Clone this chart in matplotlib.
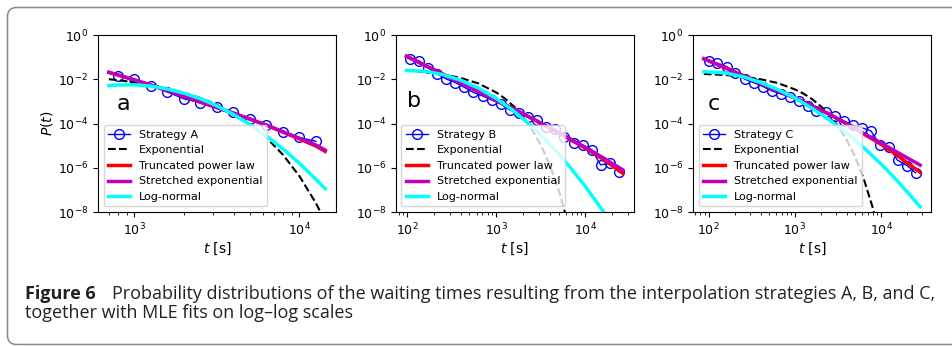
import numpy as np
import matplotlib
matplotlib.use("Agg")
import matplotlib.pyplot as plt
from matplotlib.patches import FancyBboxPatch
from matplotlib.transforms import IdentityTransform
from matplotlib.ticker import FixedLocator, NullLocator

# waiting-time histograms (log10 t [s], log10 P) and MLE fit curves per strategy

# strategy A
a_t = [2.9, 3.0, 3.1, 3.2, 3.3, 3.4, 3.5, 3.6, 3.7, 3.8, 3.9, 4.0, 4.1]
a_p = [-1.84, -2.01, -2.30, -2.58, -2.88, -3.07, -3.27, -3.48, -3.78, -4.07,
       -4.38, -4.63, -4.81]
a_fit_t = [2.845, 2.9, 3.0, 3.1, 3.2, 3.3, 3.4, 3.5, 3.6, 3.7, 3.8, 3.9, 4.0,
           4.1, 4.156]
a_exp = [-2.00, -2.04, -2.14, -2.26, -2.42, -2.61, -2.85, -3.16, -3.55, -4.03,
         -4.64, -5.41, -6.38, -7.60, -8.42]
a_tpl = [-1.69, -1.81, -2.03, -2.26, -2.51, -2.77, -3.03, -3.28, -3.54, -3.80,
         -4.08, -4.39, -4.70, -5.02, -5.26]
a_str = [-1.69, -1.80, -2.03, -2.26, -2.51, -2.77, -3.03, -3.28, -3.54, -3.80,
         -4.07, -4.37, -4.67, -4.97, -5.20]
a_logn = [-2.29, -2.26, -2.25, -2.31, -2.44, -2.63, -2.88, -3.20, -3.59, -4.05,
          -4.57, -5.15, -5.80, -6.52, -6.95]

# strategy B
b_t = [2.03, 2.13, 2.23, 2.34, 2.44, 2.54, 2.64, 2.74, 2.85, 2.95, 3.05, 3.15,
       3.25, 3.36, 3.46, 3.56, 3.66, 3.76, 3.87, 3.97, 4.07, 4.17, 4.27, 4.38]
b_p = [-1.08, -1.16, -1.48, -1.76, -1.99, -2.15, -2.36, -2.59, -2.76, -2.94,
       -3.12, -3.39, -3.54, -3.72, -3.84, -4.14, -4.25, -4.59, -4.87, -4.97,
       -5.18, -5.87, -5.80, -6.20]
b_fit_t = [1.993, 2.2, 2.4, 2.6, 2.8, 3.0, 3.2, 3.4, 3.6, 3.8, 4.0, 4.2, 4.42]
b_tpl = [-0.95, -1.37, -1.76, -2.16, -2.56, -2.95, -3.35, -3.78, -4.21, -4.65,
         -5.12, -5.62, -6.25]
b_str = [-0.97, -1.38, -1.77, -2.17, -2.56, -2.95, -3.35, -3.77, -4.20, -4.63,
         -5.08, -5.55, -6.10]
b_exp_t = [1.993, 2.2, 2.4, 2.6, 2.8, 3.0, 3.1, 3.2, 3.3, 3.4, 3.5, 3.6, 3.7, 3.8]
b_exp = [-1.61, -1.67, -1.78, -1.94, -2.19, -2.60, -2.88, -3.24, -3.69, -4.26,
         -4.98, -5.88, -7.01, -8.44]
b_logn_t = [1.993, 2.2, 2.4, 2.6, 2.8, 3.0, 3.2, 3.4, 3.6, 3.8, 4.0, 4.2, 4.3]
b_logn = [-1.60, -1.64, -1.79, -2.04, -2.40, -2.87, -3.45, -4.14, -4.93, -5.84,
          -6.85, -7.97, -8.57]

# strategy C
c_t = [2.00, 2.10, 2.21, 2.31, 2.42, 2.52, 2.63, 2.73, 2.84, 2.94, 3.05, 3.15,
       3.25, 3.36, 3.46, 3.57, 3.67, 3.78, 3.88, 3.99, 4.09, 4.19, 4.30, 4.40]
c_p = [-1.16, -1.28, -1.43, -1.73, -2.00, -2.15, -2.33, -2.52, -2.67, -2.79,
       -2.97, -3.21, -3.42, -3.48, -3.67, -3.88, -4.08, -4.20, -4.33, -4.97,
       -5.04, -5.66, -5.90, -6.23]
c_fit_t = [1.943, 2.2, 2.5, 2.8, 3.1, 3.4, 3.7, 4.0, 4.2, 4.453]
c_tpl = [-1.07, -1.49, -2.01, -2.52, -3.02, -3.58, -4.25, -4.94, -5.48, -6.21]
c_str = [-1.08, -1.50, -2.02, -2.52, -3.02, -3.58, -4.24, -4.88, -5.33, -5.88]
c_exp_t = [1.943, 2.2, 2.4, 2.6, 2.8, 3.0, 3.1, 3.2, 3.3, 3.4, 3.5, 3.6, 3.7,
           3.8, 3.9, 4.0]
c_exp = [-1.76, -1.81, -1.88, -2.00, -2.17, -2.46, -2.65, -2.90, -3.22, -3.61,
         -4.11, -4.74, -5.52, -6.52, -7.77, -9.34]
c_logn_t = [1.943, 2.2, 2.4, 2.6, 2.8, 3.0, 3.2, 3.4, 3.6, 3.8, 4.0, 4.2, 4.452]
c_logn = [-1.66, -1.72, -1.89, -2.14, -2.46, -2.85, -3.32, -3.84, -4.43, -5.10,
          -5.83, -6.64, -7.76]

panels = [
    ("a", "Strategy A", (a_t, a_p), (a_fit_t, a_exp), (a_fit_t, a_tpl),
     (a_fit_t, a_str), (a_fit_t, a_logn), (0.08, 0.61)),
    ("b", "Strategy B", (b_t, b_p), (b_exp_t, b_exp), (b_fit_t, b_tpl),
     (b_fit_t, b_str), (b_logn_t, b_logn), (0.047, 0.625)),
    ("c", "Strategy C", (c_t, c_p), (c_exp_t, c_exp), (c_fit_t, c_tpl),
     (c_fit_t, c_str), (c_logn_t, c_logn), (0.063, 0.61)),
]


def pw(xy):
    return 10 ** np.asarray(xy[0]), 10 ** np.asarray(xy[1])


W, H = 952, 346
fig = plt.figure(figsize=(W / 100, H / 100), dpi=100)

# rounded frame around figure + caption
frame = FancyBboxPatch((7.5, 1.5), 980, 337, boxstyle="round,pad=0,rounding_size=9",
                       transform=IdentityTransform(), fc="none", ec="#8a8a8a",
                       lw=1.1, figure=fig)
fig.patches.append(frame)

lefts = [98, 395.7, 693]
for i, (tag, name, data, ex, tpl, st, ln, lpos) in enumerate(panels):
    ax = fig.add_axes([lefts[i] / W, 1 - 212 / H, 238 / W, 177 / H])
    ax.plot(*pw(data), "o-", color="b", mfc="none", ms=7, lw=1,
            label=name)
    ax.plot(*pw(ex), "k--", lw=1.5, label="Exponential")
    ax.plot(*pw(tpl), color="r", lw=2.5, label="Truncated power law")
    ax.plot(*pw(st), color="m", lw=2.5, label="Stretched exponential")
    ax.plot(*pw(ln), color="cyan", lw=2.5, label="Log-normal")
    ax.set_xscale("log")
    ax.set_yscale("log")
    ax.set_ylim(1e-8, 1e0)
    ax.yaxis.set_major_locator(FixedLocator([1e-8, 1e-6, 1e-4, 1e-2, 1e0]))
    ax.yaxis.set_minor_locator(NullLocator())
    ax.tick_params(labelsize=9)
    ax.set_xlabel("$t$ [s]", fontsize=10, labelpad=2)
    if i == 0:
        ax.set_ylabel("$P(t)$", fontsize=10, labelpad=2)
    ax.text(lpos[0], lpos[1], tag, transform=ax.transAxes, fontsize=16,
            ha="left", va="center")
    ax.legend(loc="lower left", fontsize=8)

# caption
cap_font = ["Open Sans", "DejaVu Sans"]
line1 = ("Probability distributions of the waiting times resulting from the "
         "interpolation strategies A, B, and C,")
line2 = "together with MLE fits on log\u2013log scales"
renderer = fig.canvas.get_renderer()
t1 = fig.text(112 / W, 1 - 299 / H, line1, fontsize=10, family=cap_font,
              va="baseline", color="#222222")
w = t1.get_window_extent(renderer).width
size = 10 * (938 - 112) / w
t1.set_fontsize(size)
fig.text(25 / W, 1 - 299 / H, "Figure 6", fontsize=size, family=cap_font,
         weight="bold", va="baseline", color="#222222")
fig.text(25 / W, 1 - 318 / H, line2, fontsize=size, family=cap_font,
         va="baseline", color="#222222")

fig.savefig("out.png", dpi=100)
